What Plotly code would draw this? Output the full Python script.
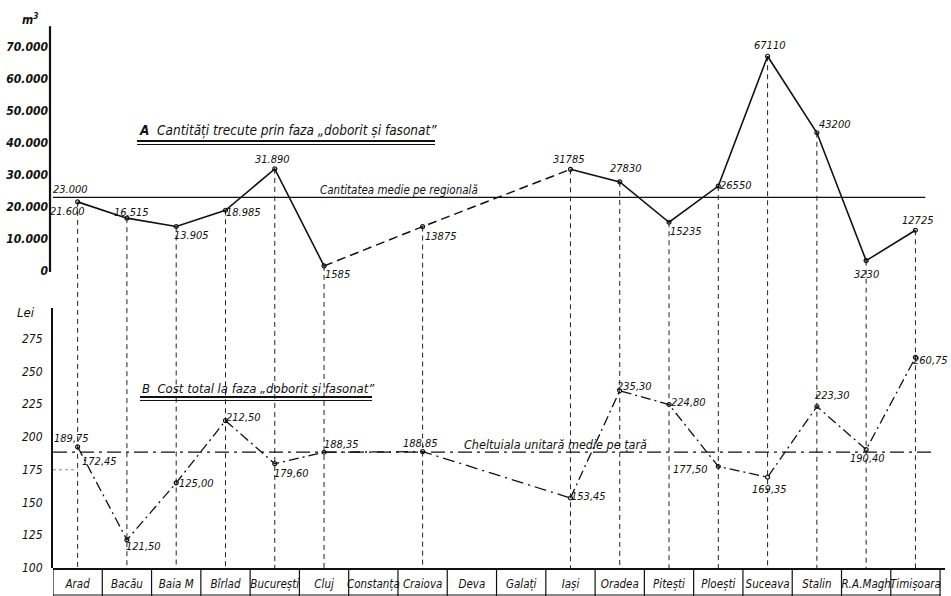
import plotly.graph_objects as go

# ---------------- data ----------------
regions = ["Arad", "Bacău", "Baia M", "Bîrlad", "București", "Cluj", "Constanța",
           "Craiova", "Deva", "Galați", "Iași", "Oradea", "Pitești", "Ploești",
           "Suceava", "Stalin", "R.A.Magh", "Timișoara"]

# A: quantities (m3) passed through "doborit si fasonat"
qty = [21600, 16515, 13905, 18985, 31890, 1585, None, 13875, None, None,
       31785, 27830, 15235, 26550, 67110, 43200, 3230, 12725]
qty_labels = ["21.600", "16.515", "13.905", "18.985", "31.890", "1585", None, "13875",
              None, None, "31785", "27830", "15235", "26550", "67110", "43200", "3230", "12725"]
qty_mean = 23000
qty_mean_label = "23.000"

# B: total cost (lei)
cost = [192.5, 121.50, 165.0, 212.50, 179.60, 188.35, None, 188.85, None, None,
        153.45, 235.30, 224.80, 177.50, 169.35, 223.30, 190.40, 260.75]
cost_labels = ["189,75", "121,50", "125,00", "212,50", "179,60", "188,35", None, "188,85",
               None, None, "153,45", "235,30", "224,80", "177,50", "169,35", "223,30",
               "190,40", "260,75"]
cost_extra_label = "172,45"
cost_mean = 188.5
cost_dotted = 175

bridge = [5, 7, 10]  # segments across regions without data

qty_ticks = [0, 10000, 20000, 30000, 40000, 50000, 60000, 70000]
qty_ticktext = ["0", "10.000", "20.000", "30.000", "40.000", "50.000", "60.000", "70.000"]
cost_ticks = [100, 125, 150, 175, 200, 225, 250, 275]
cost_ticktext = ["100", "125", "150", "175", "200", "225", "250", "275"]

# ---------------- layout geometry ----------------
W, H = 951, 596
L, R, T, B = 53, 6, 22, 28
PW, PH = W - L - R, H - T - B
BOTTOM = H - B  # pixel of plot bottom

def pxx(p):
    return (p - L) / PW

def pxy(p):
    return (BOTTOM - p) / PH

q0_px, q_scale = 271, 0.0032           # value 0 at pixel 271, px per m3
y_range = [-(BOTTOM - q0_px) / q_scale, (q0_px - T) / q_scale]
c_scale = 1.31                           # px per leu, 100 at bottom
y2_top_px = 308
y2_range = [100, 100 + (BOTTOM - y2_top_px) / c_scale]

FONT = "DejaVu Sans Condensed, Liberation Sans Narrow, Arial Narrow, sans-serif"
INK = "#111111"

xs = list(range(len(regions)))

fig = go.Figure()

def masked(vals, keep):
    return [v if i in keep else None for i, v in enumerate(vals)]

# solid segments (Arad..Cluj, Iasi..Timisoara)
solid_q = [v if (i <= 5 or i >= 10) else None for i, v in enumerate(qty)]
fig.add_trace(go.Scatter(x=xs, y=solid_q, mode="lines", line=dict(color=INK, width=1.6),
                         connectgaps=False, yaxis="y", hoverinfo="skip"))
fig.add_trace(go.Scatter(x=xs, y=masked(qty, bridge), mode="lines",
                         line=dict(color=INK, width=1.5, dash="9px,5px"),
                         connectgaps=True, yaxis="y", hoverinfo="skip"))
fig.add_trace(go.Scatter(x=xs, y=qty, mode="markers",
                         marker=dict(symbol="circle-open", size=4, color=INK, line=dict(width=1.2)),
                         yaxis="y", hoverinfo="skip"))

solid_c = [v if (i <= 5 or i >= 10) else None for i, v in enumerate(cost)]
fig.add_trace(go.Scatter(x=xs, y=solid_c, mode="lines",
                         line=dict(color=INK, width=1.3, dash="10px,4px,2px,4px"),
                         connectgaps=False, yaxis="y2", hoverinfo="skip"))
fig.add_trace(go.Scatter(x=xs, y=masked(cost, bridge), mode="lines",
                         line=dict(color=INK, width=1.3, dash="12px,5px,2px,5px"),
                         connectgaps=True, yaxis="y2", hoverinfo="skip"))
fig.add_trace(go.Scatter(x=xs, y=cost, mode="markers",
                         marker=dict(symbol="circle-open", size=4, color=INK, line=dict(width=1.2)),
                         yaxis="y2", hoverinfo="skip"))

shapes = []
# vertical dashed lines from each quantity point down to the bottom axis
for i, v in enumerate(qty):
    if v is None:
        continue
    shapes.append(dict(type="line", xref="x", yref="y", x0=i, x1=i, y0=v, y1=y_range[0],
                       line=dict(color="#222", width=1, dash="5px,4px"), layer="below"))
# mean lines
shapes.append(dict(type="line", xref="x", yref="y", x0=-0.5, x1=17.2, y0=qty_mean, y1=qty_mean,
                   line=dict(color=INK, width=1.4)))
shapes.append(dict(type="line", xref="x", yref="y2", x0=-0.5, x1=17.4, y0=cost_mean, y1=cost_mean,
                   line=dict(color=INK, width=1.2, dash="14px,5px,3px,5px")))
shapes.append(dict(type="line", xref="x", yref="y2", x0=-0.5, x1=0, y0=cost_dotted, y1=cost_dotted,
                   line=dict(color="#888", width=1, dash="dot")))
# top axis line
shapes.append(dict(type="line", xref="paper", yref="y", x0=pxx(50), x1=pxx(50), y0=-300, y1=76500,
                   line=dict(color=INK, width=2.2)))
# category table
for k in range(len(regions) + 1):
    xb = k - 0.5
    shapes.append(dict(type="line", xref="x", yref="paper", x0=xb, x1=xb, y0=0, y1=pxy(596),
                       line=dict(color=INK, width=1.2)))
shapes.append(dict(type="line", xref="x", yref="paper", x0=-0.5, x1=len(regions) - 0.5,
                   y0=pxy(595), y1=pxy(595), line=dict(color=INK, width=1.2)))
# title underlines (double)
for (xa, xb_, yy, w) in [(137, 435, 141, 2.2), (137, 435, 144.5, 1.0),
                         (140, 372, 397, 2.2), (140, 372, 400.5, 1.0)]:
    shapes.append(dict(type="line", xref="paper", yref="paper", x0=pxx(xa), x1=pxx(xb_),
                       y0=pxy(yy), y1=pxy(yy), line=dict(color=INK, width=w)))

ann = []
lab_font = dict(family=FONT, size=11, color=INK, style="italic")

q_off = [(-10, -10), (5, 6), (15, -9), (18, -2), (-2, 9), (13, -9), None, (18, -10), None, None,
         (-2, 10), (6, 13), (16, -9), (17, 1), (2, 11), (18, 8), (0, -14), (2, 10)]
for i, (v, t) in enumerate(zip(qty, qty_labels)):
    if v is None:
        continue
    dx, dy = q_off[i]
    ann.append(dict(x=i, y=v, xref="x", yref="y", text=t, showarrow=False,
                    xshift=dx, yshift=dy, font=lab_font))
ann.append(dict(x=0, y=qty_mean, xref="x", yref="y", text=qty_mean_label, showarrow=False,
                xshift=-7, yshift=8, font=lab_font))

c_off = [(-6, 8), (17, -7), (20, -1), (18, 3), (17, -10), (17, 8), None, (-2, 8), None, None,
         (18, 1), (15, 4), (19, 2), (-28, -3), (2, -12), (16, 11), (1, -9), (15, -3)]
for i, (v, t) in enumerate(zip(cost, cost_labels)):
    if v is None:
        continue
    dx, dy = c_off[i]
    ann.append(dict(x=i, y=v, xref="x", yref="y2", text=t, showarrow=False,
                    xshift=dx, yshift=dy, font=lab_font))
ann.append(dict(x=0, y=cost[0], xref="x", yref="y2", text=cost_extra_label, showarrow=False,
                xshift=22, yshift=-15, font=lab_font))

ann += [
    dict(x=pxx(137), y=pxy(130), xref="paper", yref="paper", xanchor="left", yanchor="middle",
         text="<b>A</b>  Cantități trecute prin faza „doborit și fasonat”", showarrow=False,
         font=dict(family=FONT, size=13.5, color=INK, style="italic")),
    dict(x=pxx(318), y=pxy(190), xref="paper", yref="paper", xanchor="left", yanchor="middle",
         text="Cantitatea medie pe regională", showarrow=False,
         font=dict(family=FONT, size=11.5, color=INK, style="italic")),
    dict(x=pxx(140), y=pxy(388), xref="paper", yref="paper", xanchor="left", yanchor="middle",
         text="B  Cost total la faza „doborit și fasonat”", showarrow=False,
         font=dict(family=FONT, size=13, color=INK, style="italic")),
    dict(x=pxx(462), y=pxy(444), xref="paper", yref="paper", xanchor="left", yanchor="middle",
         text="Cheltuiala unitară medie pe țară", showarrow=False,
         font=dict(family=FONT, size=12.5, color=INK, style="italic")),
    dict(x=pxx(30), y=pxy(19), xref="paper", yref="paper", xanchor="center", yanchor="middle",
         text="m<sup>3</sup>", showarrow=False,
         font=dict(family=FONT, size=12, color=INK, style="italic", weight="bold")),
    dict(x=pxx(26), y=pxy(312), xref="paper", yref="paper", xanchor="center", yanchor="middle",
         text="Lei", showarrow=False,
         font=dict(family=FONT, size=13, color=INK, style="italic")),
]

fig.update_layout(
    width=W, height=H,
    margin=dict(l=L, r=R, t=T, b=B, autoexpand=False),
    paper_bgcolor="white", plot_bgcolor="rgba(0,0,0,0)",
    showlegend=False,
    shapes=shapes, annotations=ann,
    xaxis=dict(range=[-0.5, 17.6], tickvals=xs, ticktext=regions, showgrid=False, zeroline=False,
               showline=True, linecolor=INK, linewidth=2, ticks="", anchor="y",
               tickangle=0, automargin=False,
               tickfont=dict(family=FONT, size=11.5, color=INK, style="italic"),
               ticklabelstandoff=4),
    yaxis=dict(domain=[0, 1], range=y_range, tickvals=qty_ticks, ticktext=qty_ticktext,
               showgrid=False, zeroline=False, showline=False, ticks="", anchor="x",
               automargin=False,
               tickfont=dict(family=FONT, size=12, color=INK, style="italic", weight="bold"),
               ticklabelstandoff=4),
    yaxis2=dict(domain=[0, pxy(y2_top_px)], range=y2_range, tickvals=cost_ticks,
                ticktext=cost_ticktext, showgrid=False, zeroline=False, showline=True,
                linecolor=INK, linewidth=2, ticks="", anchor="x", automargin=False,
                tickfont=dict(family=FONT, size=12, color=INK, style="italic"),
                ticklabelstandoff=6),
)

fig.write_html("out.html", config={"displayModeBar": False},
               post_script="document.body.style.margin='0px';")
